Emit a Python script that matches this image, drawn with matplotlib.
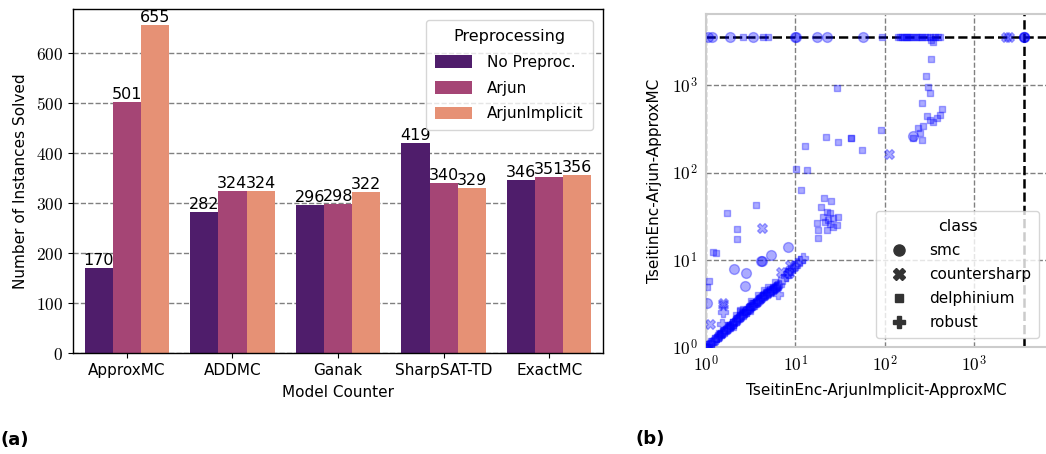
import matplotlib.pyplot as plt
import numpy as np
from matplotlib.ticker import FixedLocator, FuncFormatter

# Panel (a): instances solved per model counter
counters = ['ApproxMC', 'ADDMC', 'Ganak', 'SharpSAT-TD', 'ExactMC']
preproc = ['No Preproc.', 'Arjun', 'ArjunImplicit']
solved_none = [170, 282, 296, 419, 346]
solved_arjun = [501, 324, 298, 340, 351]
solved_implicit = [655, 324, 322, 329, 356]

# Panel (b): runtimes (s), 3600 = timeout
smc_x = [1.05, 1.17, 1.86, 3.36, 9.9, 10.1, 17.5, 22.6, 57, 3600, 3600, 3600,
         2.06, 2.78, 2.73, 4.13, 4.2, 5.34, 8.28, 1.02, 208]
smc_y = [3600, 3600, 3600, 3600, 3600, 3600, 3600, 3600, 3600, 3600, 3600, 3600,
         7.8, 6.97, 5.02, 9.66, 9.7, 11.5, 14.2, 3.2, 261]

csharp_x = [2300, 2450, 4.24, 111, 1.54, 1.11, 7.0, 8.4, 8.7, 1.55]
csharp_y = [3600, 3600, 23.1, 163, 3.2, 1.82, 7.3, 7.0, 8.7, 3.0]

delph_x = [2.6, 4.4, 5.0, 93, 140, 150, 158, 165, 172, 180, 190, 200, 210, 222,
           235, 250, 265, 280, 300, 320, 345, 370, 400, 420, 327, 345,
           328, 290, 310, 322, 265, 296, 436, 417, 348, 270, 250, 209, 260, 323,
           383, 236, 90,
           29, 21.8, 12.8, 30, 41.6, 42.5, 55.7, 10.3, 13.6, 11.6,
           21, 25.2, 19.2, 22.4, 24.5, 30.3, 20.6, 23.4, 26.6, 17.3, 29, 21.5,
           18.1, 26.6, 22.4, 17.8, 24.5,
           1.7, 3.63, 2.2, 2.2, 1.19, 1.29, 1.09, 1.03,
           1.05, 1.15, 1.3, 1.45, 1.6, 1.85, 2.0, 2.25, 2.5, 2.7, 3.0, 3.3, 3.6,
           3.9, 4.3, 4.7, 5.2, 5.6, 6.2, 2.0, 2.4, 3.1, 2.4, 1.01, 1.02,
           1.4, 1.75, 2.15, 2.6, 3.2, 3.8, 4.5, 5.0, 5.9]
delph_y = [3600, 3600, 3600, 3600, 3600, 3600, 3600, 3600, 3600, 3600, 3600,
           3600, 3600, 3600, 3600, 3600, 3600, 3600, 3600, 3600, 3600, 3600,
           3600, 3600, 3300, 3170,
           2030, 1280, 966, 824, 626, 444, 530, 464, 376, 340, 288, 252, 239, 406,
           428, 329, 312,
           940, 257, 203, 223, 248, 250, 182, 111, 107, 64,
           50.5, 46.8, 40, 35.3, 34, 31.2, 31.2, 28.6, 29.9, 26.2, 25, 27.3,
           21.9, 24, 21.9, 17.9, 26,
           34.1, 42.9, 22.5, 17.4, 12.4, 11.9, 5.69, 4.9,
           1.0, 1.12, 1.25, 1.42, 1.55, 1.75, 1.95, 2.15, 2.5, 2.5, 2.9, 3.2, 3.3,
           3.6, 4.0, 4.3, 4.6, 4.9, 5.2, 1.7, 2.6, 2.6, 2.66, 1.01, 1.03,
           1.45, 1.8, 2.3, 2.75, 3.35, 3.9, 4.55, 4.9, 5.6]

robust_x = [1.03, 1.08, 1.12, 1.18, 1.22, 1.28, 1.33, 1.38, 1.45, 1.5, 1.55, 1.62,
            1.7, 1.75, 1.82, 1.9, 1.95, 2.05, 2.1, 2.2, 2.3, 2.35, 2.45, 2.55,
            2.65, 2.75, 2.85, 2.95, 3.05, 3.2, 3.3, 3.4, 3.55, 3.7, 3.8, 3.95,
            4.1, 4.25, 4.4, 4.6, 4.75, 4.9, 5.1, 5.3, 5.5, 5.7, 5.9, 6.1, 6.3,
            6.5, 7.3, 7.8, 8.3, 8.8, 9.3, 9.8, 10.5, 11.2, 12.1, 1.54, 6.45, 1.5]
robust_y = [1.02, 1.05, 1.1, 1.12, 1.2, 1.22, 1.3, 1.32, 1.38, 1.45, 1.48, 1.52,
            1.6, 1.65, 1.7, 1.76, 1.85, 1.9, 2.0, 2.05, 2.1, 2.2, 2.25, 2.35,
            2.4, 2.55, 2.6, 2.7, 2.8, 2.85, 3.0, 3.05, 3.15, 3.25, 3.4, 3.45,
            3.6, 3.7, 3.8, 3.9, 4.05, 4.15, 4.3, 4.4, 4.55, 4.65, 4.8, 4.9, 5.0,
            5.1, 6.1, 6.5, 7.0, 7.6, 8.0, 8.5, 9.2, 9.8, 10.5, 2.55, 4.1, 1.85]

TIMEOUT = 3600
BAR_COLORS = ['#4f1d6b', '#a54575', '#e69175']


def serif_math(value, _pos):
    return r'$%d$' % value


def serif_pow(value, _pos):
    return r'$10^{%d}$' % round(np.log10(value))


def draw_bars(ax):
    x = np.arange(len(counters))
    width = 0.8 / 3
    series = [solved_none, solved_arjun, solved_implicit]
    for i, (name, values) in enumerate(zip(preproc, series)):
        bars = ax.bar(x + (i - 1) * width, values, width, color=BAR_COLORS[i],
                      label=name, zorder=2)
        ax.bar_label(bars, fontsize=11.5, padding=0)

    ax.set_xlim(-0.51, 4.51)
    ax.set_ylim(0, 688)
    ax.set_xticks(x)
    ax.set_xticklabels(counters, fontsize=11)
    ax.yaxis.set_major_locator(FixedLocator(range(0, 700, 100)))
    ax.yaxis.set_major_formatter(FuncFormatter(serif_math))
    ax.tick_params(axis='y', labelsize=12.5)
    ax.set_axisbelow(True)
    ax.grid(axis='y', linestyle='--', color='#808080', linewidth=1)
    ax.set_xlabel('Model Counter', fontsize=11, labelpad=5)
    ax.set_ylabel('Number of Instances Solved', fontsize=11, labelpad=6)
    for s in ax.spines.values():
        s.set_linewidth(1.0)

    leg = ax.legend(title='Preprocessing', loc='upper right', fontsize=11,
                    title_fontsize=11.5, handlelength=2.4, handleheight=0.9,
                    borderpad=0.6, labelspacing=0.7, handletextpad=1.0,
                    fancybox=True, framealpha=0.8, edgecolor='#cccccc',
                    borderaxespad=0, bbox_to_anchor=(0.981, 0.968))
    leg.get_frame().set_linewidth(1.0)


def draw_scatter(ax):
    style = dict(color='blue', alpha=0.33, linewidths=1.0, zorder=3)
    ax.scatter(smc_x, smc_y, s=50, marker='o', **style)
    ax.scatter(csharp_x, csharp_y, s=50, marker='X', **style)
    ax.scatter(delph_x, delph_y, s=50, marker=(4, 0, 45), **style)
    ax.scatter(robust_x, robust_y, s=50, marker='P', **style)

    ax.axhline(TIMEOUT, color='black', linestyle='--', linewidth=1.8, zorder=2)
    ax.axvline(TIMEOUT, color='black', linestyle='--', linewidth=1.8, zorder=2)

    ax.set_xscale('log')
    ax.set_yscale('log')
    ax.set_xlim(1, 6600)
    ax.set_ylim(1, 6600)
    ticks = [1, 10, 100, 1000]
    ax.xaxis.set_major_locator(FixedLocator(ticks))
    ax.yaxis.set_major_locator(FixedLocator(ticks))
    ax.xaxis.set_minor_locator(FixedLocator([]))
    ax.yaxis.set_minor_locator(FixedLocator([]))
    ax.xaxis.set_major_formatter(FuncFormatter(serif_pow))
    ax.yaxis.set_major_formatter(FuncFormatter(serif_pow))
    ax.tick_params(length=0, labelsize=12.5, pad=6)
    ax.grid(True, linestyle='--', color='#808080', linewidth=1, zorder=0)
    ax.set_axisbelow(True)
    for s in ax.spines.values():
        s.set_color('#cccccc')
        s.set_linewidth(1.5)
    ax.set_xlabel('TseitinEnc-ArjunImplicit-ApproxMC', fontsize=11, labelpad=5)
    ax.set_ylabel('TseitinEnc-Arjun-ApproxMC', fontsize=11, labelpad=7)

    handles = [plt.Line2D([], [], linestyle='', marker=m, color='#333333',
                          markersize=ms)
               for m, ms in [('o', 8), ('X', 8), ((4, 0, 45), 8), ('P', 8)]]
    leg = ax.legend(handles, ['smc', 'countersharp', 'delphinium', 'robust'],
                    title='class', loc='lower right', fontsize=11,
                    title_fontsize=11.5, handletextpad=1.0, labelspacing=0.6,
                    borderpad=0.5, framealpha=0.8, edgecolor='#cccccc',
                    borderaxespad=0, bbox_to_anchor=(0.977, 0.027))
    leg.get_frame().set_linewidth(1.0)


def main():
    plt.rcParams['font.family'] = ['DejaVu Sans']
    plt.rcParams['mathtext.fontset'] = 'cm'

    fig = plt.figure(figsize=(10.46, 4.54), dpi=100)
    ax_a = fig.add_axes([0.0698, 0.2225, 0.5067, 0.7577])
    ax_b = fig.add_axes([0.675, 0.2357, 0.326, 0.7335])

    draw_bars(ax_a)
    draw_scatter(ax_b)

    fig.text(0.0, 0.02, '(a)', fontsize=13, fontweight='bold')
    fig.text(0.608, 0.022, '(b)', fontsize=13, fontweight='bold')

    fig.savefig('out.png', dpi=100)


if __name__ == '__main__':
    main()
